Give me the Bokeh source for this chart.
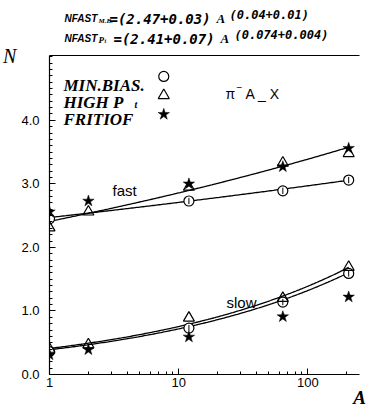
import numpy as np
from bokeh.plotting import figure
from bokeh.layouts import column
from bokeh.models import (Label, FixedTicker, PrintfTickFormatter, LogAxis, Range1d)
from bokeh.embed import file_html
from bokeh.resources import INLINE

# ---- data ----
A_all = [1, 2, 12, 64, 207]
A_mb = [1, 12, 64, 207]
fast_minbias = [2.45, 2.73, 2.89, 3.06]
fast_highpt = [2.31, 2.56, 2.95, 3.33, 3.48]
fast_fritiof = [2.56, 2.73, 3.00, 3.27, 3.56]
slow_minbias = [0.36, 0.73, 1.14, 1.59]
slow_highpt = [0.40, 0.47, 0.89, 1.20, 1.69]
slow_fritiof = [0.31, 0.39, 0.59, 0.91, 1.22]
minbias_err = [0.05, 0.05, 0.05, 0.05]

# fit parameters N = a * A^b
fit_fast_mb = (2.47, 0.04)
fit_fast_pt = (2.41, 0.074)
fit_slow_mb = (0.39, 0.265)
fit_slow_pt = (0.41, 0.265)

y_ticks = [0, 1, 2, 3, 4]
x_ticks = [1, 10, 100]
X_END = 251
Y_END = 5.02

W = 367
TH = 46            # height of the formula strip above the plot
H = 410 - TH       # height of the plot figure
BL, BR, BT, BB = 47, 8, 9, 35

# ---------- formula strip ----------
t = figure(width=W, height=TH, output_backend="svg", toolbar_location=None,
           x_range=Range1d(0, 1), y_range=Range1d(0, 1),
           x_axis_location=None, y_axis_location=None, min_border=0)
t.grid.visible = False
t.outline_line_color = None
t.background_fill_color = "white"
t.border_fill_color = "white"

def tlab(fig, text, px, py, size, font="Liberation Sans", style="normal", dy=0):
    fig.add_layout(Label(x=px, y=py - dy, x_units="canvas", y_units="canvas", text=text,
                         text_font=font, text_font_size=f"{size}px", text_font_style=style,
                         text_align="left", text_baseline="alphabetic", text_color="black"))

mono = "DejaVu Sans Mono"
tlab(t, "NFAST", 64, 18, 10, "Liberation Sans", "bold italic")
tlab(t, "M.B.", 98, 20, 7, "Liberation Serif", "bold italic")
tlab(t, "=(2.47+0.03)", 109, 18, 14, mono, "bold italic")
tlab(t, "A", 216, 18, 13, "Liberation Serif", "bold italic")
tlab(t, "(0.04+0.01)", 229, 14, 12, mono, "bold italic")
tlab(t, "NFAST", 64, 38, 10, "Liberation Sans", "bold italic")
tlab(t, "P", 98, 39, 9, "Liberation Serif", "bold italic")
tlab(t, "t", 104, 40, 6, "Liberation Serif", "bold italic")
tlab(t, "=(2.41+0.07)", 113, 38, 14, mono, "bold italic")
tlab(t, "A", 220, 38, 13, "Liberation Serif", "bold italic")
tlab(t, "(0.074+0.004)", 234, 34, 12, mono, "bold italic")

# ---------- main plot ----------
p = figure(width=W, height=H, x_axis_type="log", output_backend="svg",
           toolbar_location=None, x_range=Range1d(1, X_END), y_range=Range1d(0, Y_END),
           min_border_left=BL, min_border_right=BR, min_border_top=BT, min_border_bottom=BB)
p.grid.visible = False
p.outline_line_color = None
p.background_fill_color = "white"
p.border_fill_color = "white"

for ax in (p.xaxis[0], p.yaxis[0]):
    ax.axis_line_color = "black"
    ax.axis_line_width = 1.2
    ax.major_tick_in = 6
    ax.major_tick_out = 0
    ax.minor_tick_in = 3
    ax.minor_tick_out = 0
    ax.major_tick_line_color = "black"
    ax.minor_tick_line_color = "black"
    ax.major_label_text_font = "Liberation Sans"
    ax.major_label_text_font_size = "13px"
    ax.major_label_text_color = "black"
    ax.axis_label_text_font = "Liberation Serif"
    ax.axis_label_text_color = "black"
    ax.axis_label_align = "end"

minor_x = [m * d for d in (1, 10, 100) for m in range(2, 10) if m * d < X_END]
p.xaxis[0].ticker = FixedTicker(ticks=x_ticks, minor_ticks=minor_x)
p.xaxis[0].formatter = PrintfTickFormatter(format="%d")
p.xaxis[0].major_label_standoff = 3
p.xaxis[0].axis_label = "A"
p.xaxis[0].axis_label_text_font_size = "19px"
p.xaxis[0].axis_label_text_font_style = "bold italic"
p.xaxis[0].axis_label_standoff = -3

minor_y = [round(v, 1) for v in np.arange(0, Y_END, 0.1)]
p.yaxis[0].ticker = FixedTicker(ticks=y_ticks, minor_ticks=minor_y)
p.yaxis[0].formatter = PrintfTickFormatter(format="%.1f")
p.yaxis[0].major_label_standoff = 10
p.yaxis[0].axis_label = "N"
p.yaxis[0].axis_label_orientation = "horizontal"
p.yaxis[0].axis_label_text_font_size = "20px"
p.yaxis[0].axis_label_text_font_style = "italic"
p.yaxis[0].axis_label_standoff = 2

top = LogAxis(ticker=FixedTicker(ticks=[]), major_label_text_font_size="0px",
              major_label_standoff=0,
              axis_line_color="black", axis_line_width=1.2,
              major_tick_line_color=None, minor_tick_line_color=None)
p.add_layout(top, "above")

# ---- fit curves ----
Ag = np.logspace(0, np.log10(207), 200)
for a, b in (fit_fast_mb, fit_fast_pt, fit_slow_mb, fit_slow_pt):
    p.line(Ag, a * Ag ** b, line_color="black", line_width=1.3)

# ---- points ----
def circles(y):
    p.scatter(A_mb, y, marker="circle", size=10, fill_color="white",
              line_color="black", line_width=1.2)
    p.segment(A_mb, [v - e for v, e in zip(y, minbias_err)],
              A_mb, [v + e for v, e in zip(y, minbias_err)],
              line_color="black", line_width=1)

def triangles(y):
    p.scatter(A_all, y, marker="triangle", size=11, fill_color=None,
              line_color="black", line_width=1.2)

def stars(y):
    p.scatter(A_all, y, marker="star", size=12, fill_color="black",
              line_color="black", line_width=0.5)

circles(fast_minbias); triangles(fast_highpt); stars(fast_fritiof)
circles(slow_minbias); triangles(slow_highpt); stars(slow_fritiof)

# ---- legend markers (placed from page pixel positions) ----
OFF = TH  # page y offset of the plot figure
def px2data(px, py):
    x = 10 ** ((px - BL) / (W - BL - BR) * np.log10(X_END))
    y = (H - BB - (py - OFF)) / (H - BT - BB) * Y_END
    return x, y

lx, ly1 = px2data(162, 76)
_, ly2 = px2data(162, 95)
_, ly3 = px2data(162, 114)
p.scatter([lx], [ly1], marker="circle", size=10, fill_color="white", line_color="black", line_width=1.2)
p.scatter([lx], [ly2], marker="triangle", size=11, fill_color=None, line_color="black", line_width=1.2)
p.scatter([lx], [ly3], marker="star", size=12, fill_color="black", line_color="black", line_width=0.5)

def lab(text, px, py, size, font="Liberation Sans", style="normal"):
    tlab(p, text, px, py, size, font, style, dy=OFF)

# legend texts
lab("MIN.BIAS.", 63, 85, 17, "Liberation Serif", "bold italic")
lab("HIGH  P", 63, 102, 17, "Liberation Serif", "bold italic")
lab("t", 134, 104, 10, "Liberation Serif", "bold italic")
lab("FRITIOF", 63, 119, 17, "Liberation Serif", "bold italic")

# reaction
lab("π", 225, 93, 14)
lab("−", 236, 86, 10)
lab("A _ X", 245, 93, 14)

lab("fast", 112, 190, 15)
lab("slow", 226, 302, 15)

layout = column(t, p, spacing=0)
open("out.html", "w").write(file_html(layout, INLINE))
